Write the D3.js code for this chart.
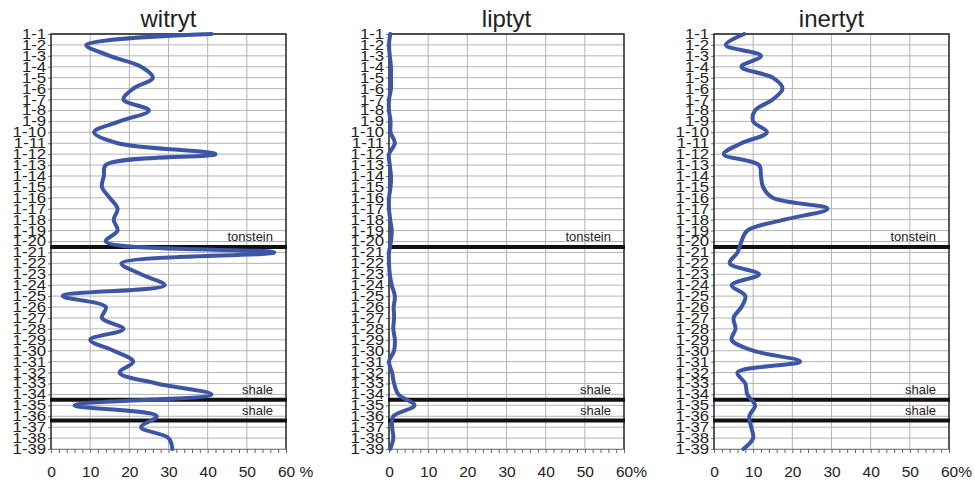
<!DOCTYPE html>
<html>
<head>
<meta charset="utf-8">
<script src="https://cdn.jsdelivr.net/npm/d3@7"></script>
<style>
  body { margin: 0; background: #fff; }
  text { font-family: "Liberation Sans", Arial, sans-serif; fill: #222; }
</style>
</head>
<body>
<div id="chart"></div>
<script>
// sample labels (top to bottom)
var samples = ["1-1","1-2","1-3","1-4","1-5","1-6","1-7","1-8","1-9","1-10",
  "1-11","1-12","1-13","1-14","1-15","1-16","1-17","1-18","1-19","1-20",
  "1-21","1-22","1-23","1-24","1-25","1-26","1-27","1-28","1-29","1-30",
  "1-31","1-32","1-33","1-34","1-35","1-36","1-37","1-38","1-39"];

// percentages
var witryt = [41, 9, 15, 23, 26, 21, 18.5, 25, 17.5, 11,
  17, 42, 14, 13.5, 13, 15, 17, 16, 17, 14,
  57, 18, 23, 29, 3, 14, 13, 18.5, 10, 16,
  21, 17.5, 27, 41, 6, 27, 23, 30, 31];
var liptyt = [0.3, 0, 0.2, 0.5, 0.5, 0.5, 0, 0, 0.4, 0.4,
  1.5, 0, 0.2, 0.5, 0.4, 0, 0, 0.3, 0.7, 0.5,
  0, 0, 0.2, 0.7, 1.5, 1.2, 1.3, 1.1, 1.5, 1.3,
  0, 0.8, 1.3, 2.4, 6.5, 1.1, 0.8, 1.1, 0.3];
var inertyt = [7.7, 3, 12, 7, 15, 17.5, 15, 10.5, 10, 13.5,
  7, 2.5, 11.5, 12, 12.5, 15, 29, 18, 8.5, 7,
  6, 4, 11.5, 4.5, 8, 7, 5, 5.5, 4.5, 10,
  22, 6, 8, 8.5, 10.5, 9, 9.5, 10, 7.5];

var titles = ["witryt", "liptyt", "inertyt"];
var series = [witryt, liptyt, inertyt];
var xTicks = [0, 10, 20, 30, 40, 50, 60];

// layer boundaries (position in sample index units)
var layerNames = ["tonstein", "shale", "shale"];
var layerDepths = [20.5, 34.5, 36.4];

var svgWidth = 975;
var svgHeight = 483;
var panelLeft = [51, 389, 714];
var plotW = 235;
var plotTop = 34, plotBottom = 449;

var svg = d3.select("#chart")
  .append("svg")
  .attr("width", svgWidth)
  .attr("height", svgHeight);

var x = d3.scaleLinear().domain([0, 60]).range([0, plotW]);
var y = d3.scalePoint().domain(samples).range([plotTop, plotBottom]);
var yDepth = d3.scaleLinear().domain([1, samples.length]).range([plotTop, plotBottom]);

series.forEach(function(values, p) {
  var g = svg.append("g")
    .attr("transform", `translate(${panelLeft[p]},0)`);

  // horizontal grid
  g.selectAll(".hgrid")
    .data(samples)
    .enter()
    .append("line")
    .attr("x1", 0)
    .attr("x2", plotW)
    .attr("y1", d => y(d))
    .attr("y2", d => y(d))
    .attr("stroke", "#b4b4b4")
    .attr("stroke-width", 1);

  // vertical grid
  g.selectAll(".vgrid")
    .data(xTicks.slice(1, -1))
    .enter()
    .append("line")
    .attr("x1", d => x(d))
    .attr("x2", d => x(d))
    .attr("y1", plotTop)
    .attr("y2", plotBottom)
    .attr("stroke", "#b4b4b4")
    .attr("stroke-width", 1);

  // minor ticks on the bottom axis
  var minor = d3.axisBottom(x)
    .tickValues(d3.range(0, 61, 2))
    .tickSize(4)
    .tickFormat("");
  g.append("g")
    .attr("transform", `translate(0,${plotBottom})`)
    .call(minor)
    .call(a => a.select(".domain").attr("stroke", "#888"))
    .call(a => a.selectAll(".tick line").attr("stroke", "#666"));

  // tick labels
  var labels = d3.axisBottom(x)
    .tickValues(xTicks)
    .tickSize(0)
    .tickPadding(17)
    .tickFormat(d => d === 60 ? (p === 0 ? "60 %" : "60%") : d);
  g.append("g")
    .attr("transform", `translate(0,${plotBottom})`)
    .call(labels)
    .call(a => a.select(".domain").remove())
    .call(a => a.selectAll("text")
      .attr("font-size", 15.5)
      .attr("fill", "#222")
      .attr("font-family", "Liberation Sans, Arial, sans-serif")
      .attr("text-anchor", d => d === 60 ? "start" : "middle")
      .attr("dx", d => d === 60 ? "-0.55em" : 0));

  // y axis (labels stretched sideways, as in the source)
  var leftAxis = d3.axisLeft(y).tickSize(3).tickPadding(1);
  g.append("g")
    .call(leftAxis)
    .call(a => a.select(".domain").remove())
    .call(a => a.selectAll(".tick line").attr("stroke", "#777"))
    .call(a => a.selectAll("text")
      .attr("font-size", 14)
      .attr("transform", "scale(1.2,1)")
      .attr("fill", "#222")
      .attr("font-family", "Liberation Sans, Arial, sans-serif"));

  // frame
  g.append("path")
    .attr("d", `M0,${plotBottom}V${plotTop}H${plotW}V${plotBottom}`)
    .attr("fill", "none")
    .attr("stroke", "#222")
    .attr("stroke-width", 1.5);

  // title
  g.append("text")
    .attr("x", plotW / 2)
    .attr("y", 27)
    .attr("text-anchor", "middle")
    .attr("font-size", 24)
    .text(titles[p]);

  // layer boundaries
  layerDepths.forEach(function(dep, i) {
    g.append("line")
      .attr("x1", -1)
      .attr("x2", plotW + 1)
      .attr("y1", yDepth(dep))
      .attr("y2", yDepth(dep))
      .attr("stroke", "#111")
      .attr("stroke-width", 4);
    g.append("text")
      .attr("x", plotW - 13)
      .attr("y", yDepth(dep) - 6)
      .attr("text-anchor", "end")
      .attr("font-size", 13)
      .attr("fill", "#333")
      .text(layerNames[i]);
  });

  // data curve
  var line = d3.line()
    .x(d => x(d))
    .y((d, i) => y(samples[i]))
    .curve(d3.curveCatmullRom.alpha(0.5));
  g.append("path")
    .datum(values)
    .attr("d", line)
    .attr("fill", "none")
    .attr("stroke", "#3d55a6")
    .attr("stroke-width", 4)
    .attr("stroke-linejoin", "round")
    .attr("stroke-linecap", "round");
});
</script>
</body>
</html>
